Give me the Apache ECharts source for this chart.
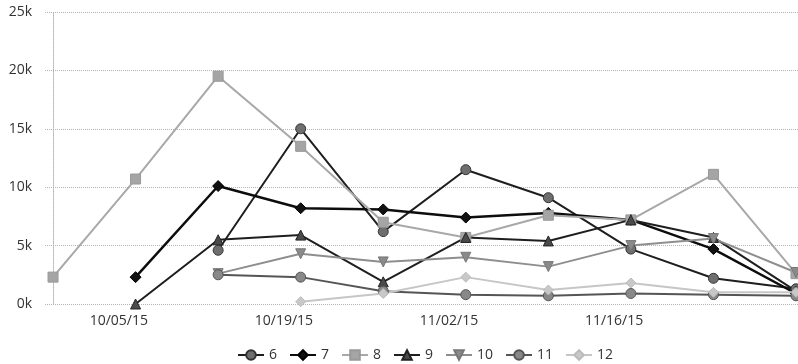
<!DOCTYPE html>
<html>
<head>
<meta charset="utf-8">
<script src="https://cdn.jsdelivr.net/npm/echarts@6/dist/echarts.min.js"></script>
<style>
  html, body { margin: 0; padding: 0; background: #fff; }
  #chart { width: 798px; height: 364px; }
</style>
</head>
<body>
<div id="chart"></div>
<script>
// Weekly observation dates
const weeks = ['2015-09-29', '2015-10-06', '2015-10-13', '2015-10-20', '2015-10-27',
               '2015-11-03', '2015-11-10', '2015-11-17', '2015-11-24', '2015-12-01'];
// Dates shown on the horizontal axis
const tickDates = ['2015-10-05', '2015-10-19', '2015-11-02', '2015-11-16'];
const yTicks = [0, 5000, 10000, 15000, 20000, 25000];

const s6  = [null, null, 4600, 15000, 6200, 11500, 9100, 4700, 2200, 1300];
const s7  = [null, 2300, 10100, 8200, 8100, 7400, 7800, 7200, 4700, 900];
const s8  = [2300, 10700, 19500, 13500, 7000, 5700, 7600, 7200, 11100, 2600];
const s9  = [null, 0, 5500, 5900, 1900, 5700, 5400, 7200, 5700, 1100];
const s10 = [null, null, 2600, 4300, 3600, 4000, 3200, 5000, 5600, 2700];
const s11 = [null, null, 2500, 2300, 1100, 800, 700, 900, 800, 700];
const s12 = [null, null, null, 200, 900, 2300, 1200, 1800, 1000, 1000];

const DAY = 86400000;
const base = Date.UTC(2015, 8, 29);
function dayOf(s) {
  const p = s.split('-').map(Number);
  return Math.round((Date.UTC(p[0], p[1] - 1, p[2]) - base) / DAY);
}
function labelOf(d) {
  const t = new Date(base + d * DAY);
  const mm = String(t.getUTCMonth() + 1).padStart(2, '0');
  const dd = String(t.getUTCDate()).padStart(2, '0');
  const yy = String(t.getUTCFullYear()).slice(2);
  return mm + '/' + dd + '/' + yy;
}
const weekDays = weeks.map(dayOf);
const tickDays = tickDates.map(dayOf);
const pts = arr => arr.map((v, i) => [weekDays[i], v]);

function line(name, data, lineColor, width, symbol, size, fill, border, rotate) {
  return {
    name: name,
    type: 'line',
    data: pts(data),
    symbol: symbol,
    symbolSize: size,
    symbolRotate: rotate || 0,
    showAllSymbol: true,
    connectNulls: false,
    lineStyle: { color: lineColor, width: width },
    itemStyle: { color: fill, borderColor: border, borderWidth: 1 },
    emphasis: { disabled: true },
    z: 2
  };
}

const chart = echarts.init(document.getElementById('chart'), null, { renderer: 'canvas' });
chart.setOption({
  animation: false,
  textStyle: { fontFamily: 'Open Sans, sans-serif' },
  grid: { left: 45, right: 0, top: 12, bottom: 60 },
  legend: {
    top: 343,
    left: 232,
    itemGap: 12,
    itemWidth: 26,
    itemHeight: 12,
    textStyle: { fontSize: 14, color: '#333', fontFamily: 'Open Sans, sans-serif' }
  },
  xAxis: {
    type: 'value',
    min: weekDays[0] - 0.68,
    max: weekDays[weekDays.length - 1] + 0.17,
    axisLine: { show: false },
    axisTick: { show: false },
    splitLine: { show: false },
    axisLabel: {
      customValues: tickDays,
      formatter: v => labelOf(Math.round(v)),
      fontSize: 14,
      color: '#333',
      margin: 10,
      padding: [0, 10, 0, 0]
    }
  },
  yAxis: {
    type: 'value',
    min: yTicks[0],
    max: yTicks[yTicks.length - 1],
    interval: 5000,
    axisLine: { show: true, lineStyle: { color: '#b4b4b4', type: 'dotted', width: 1 } },
    axisTick: { show: false },
    splitLine: { show: true, lineStyle: { color: '#b4b4b4', type: 'dotted', width: 1 } },
    axisLabel: {
      formatter: v => (v / 1000) + 'k',
      fontSize: 14,
      color: '#333',
      margin: 13
    }
  },
  series: [
    line('6', s6, '#1e1e1e', 2, 'circle', 10, '#6e6e6e', '#333'),
    line('7', s7, '#0d0d0d', 2.5, 'diamond', 11, '#111', '#000'),
    line('8', s8, '#a8a8a8', 2, 'rect', 10, '#a5a5a5', '#999'),
    line('9', s9, '#1e1e1e', 2, 'triangle', 10, '#4a4a4a', '#222'),
    line('10', s10, '#8e8e8e', 2, 'triangle', 10, '#8a8a8a', '#777', 180),
    line('11', s11, '#555', 2, 'circle', 10, '#888', '#555'),
    line('12', s12, '#c6c6c6', 2, 'diamond', 10, '#c8c8c8', '#bbb')
  ]
});
</script>
</body>
</html>
